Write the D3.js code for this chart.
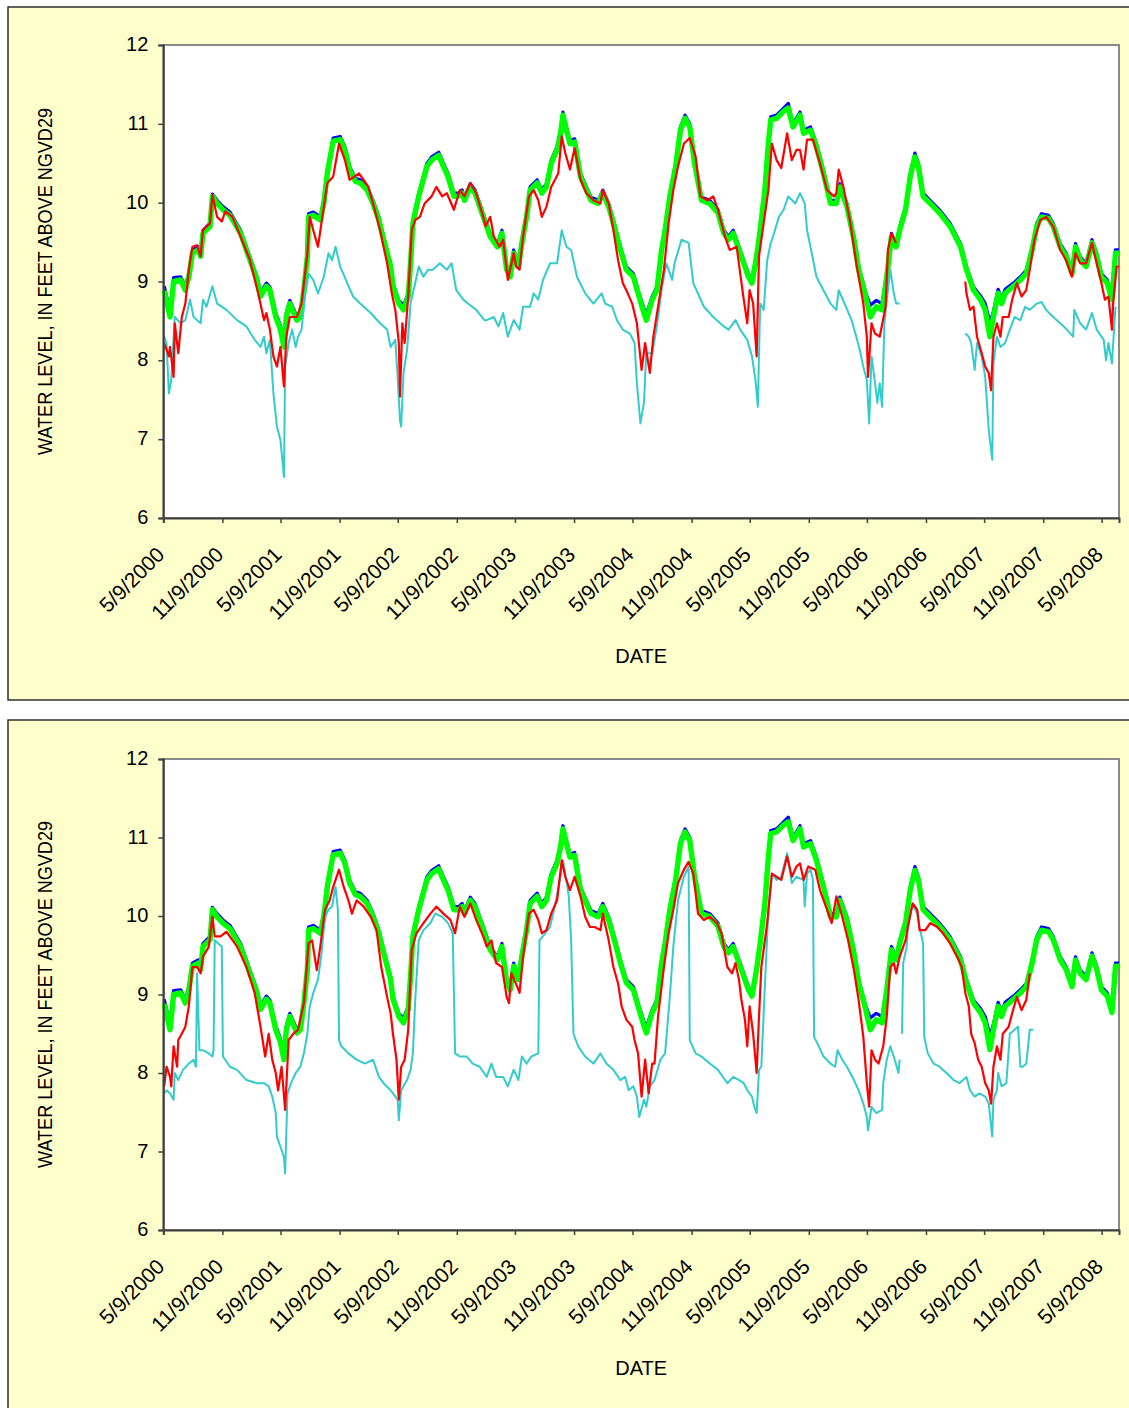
<!DOCTYPE html>
<html><head><meta charset="utf-8">
<script src="https://cdn.jsdelivr.net/npm/d3@7"></script>
<style>body{margin:0;background:#fff;} svg{display:block;font-family:Arial,"Liberation Sans",sans-serif;}</style>
</head><body>
<svg id="chart" width="1129" height="1408"></svg>
<script>
// ---------- data ----------
const tickLabels = ["5/9/2000","11/9/2000","5/9/2001","11/9/2001","5/9/2002","11/9/2002","5/9/2003","11/9/2003",
  "5/9/2004","11/9/2004","5/9/2005","11/9/2005","5/9/2006","11/9/2006","5/9/2007","11/9/2007","5/9/2008"];
const yTicks = [6,7,8,9,10,11,12];
const xTitle = "DATE";
const yTitle = "WATER LEVEL, IN FEET ABOVE NGVD29";

// times in decimal years
const bgYears = [2000.36,2000.41,2000.44,2000.50,2000.54,2000.57,2000.60,2000.65,2000.67,2000.69,2000.75,2000.77,2000.81,2000.86,2000.92,
2001.01,2001.09,2001.15,2001.18,2001.23,2001.26,2001.31,2001.35,2001.38,2001.40,2001.43,2001.49,2001.52,2001.55,2001.58,2001.59,2001.63,2001.69,2001.72,2001.75,2001.76,2001.80,2001.86,2001.90,2001.94,2001.99,
2002.03,2002.09,2002.14,2002.19,2002.23,2002.29,2002.31,2002.36,2002.40,2002.44,2002.46,2002.48,2002.53,2002.60,2002.64,2002.70,2002.74,2002.78,2002.83,2002.87,2002.90,2002.92,2002.97,
2003.01,2003.05,2003.10,2003.14,2003.20,2003.24,2003.28,2003.31,2003.34,2003.38,2003.41,2003.45,2003.48,2003.54,2003.58,2003.62,2003.66,2003.71,2003.74,2003.76,2003.79,2003.82,2003.86,2003.91,2003.96,
2004.00,2004.06,2004.10,2004.15,2004.19,2004.25,2004.30,2004.36,2004.40,2004.45,2004.47,2004.52,2004.56,2004.60,2004.63,2004.67,2004.72,2004.76,2004.80,2004.84,2004.88,2004.94,
2005.01,2005.08,2005.13,2005.17,2005.21,2005.26,2005.30,2005.34,2005.37,2005.41,2005.44,2005.48,2005.51,2005.53,2005.58,2005.64,2005.68,2005.72,2005.78,2005.81,2005.87,2005.92,2005.98,
2006.04,2006.09,2006.12,2006.18,2006.24,2006.28,2006.34,2006.38,2006.43,2006.48,2006.52,2006.56,2006.60,2006.63,2006.68,2006.72,2006.76,2006.79,2006.83,2006.89,2006.97,
2007.06,2007.15,2007.20,2007.26,2007.32,2007.36,2007.40,2007.43,2007.47,2007.50,2007.53,2007.60,2007.66,2007.71,2007.76,2007.80,2007.84,2007.90,2007.94,
2008.00,2008.05,2008.10,2008.13,2008.17,2008.22,2008.27,2008.31,2008.35,2008.40,2008.44,2008.47,2008.50];

const blueLevels = [8.94,8.62,9.05,9.06,8.94,9.10,9.40,9.44,9.36,9.65,9.74,10.11,10.03,9.95,9.88,
9.65,9.31,9.06,8.86,8.98,8.93,8.60,8.44,8.23,8.60,8.76,8.56,8.60,8.93,9.36,9.86,9.88,9.82,10.03,10.41,10.50,10.82,10.84,10.71,10.46,10.31,
10.29,10.20,10.03,9.82,9.57,9.23,8.98,8.76,8.70,8.85,9.27,9.78,10.12,10.50,10.58,10.64,10.50,10.37,10.12,10.12,10.16,10.07,10.24,
10.16,9.99,9.78,9.61,9.48,9.65,9.19,9.10,9.40,9.23,9.53,9.86,10.20,10.29,10.16,10.24,10.54,10.71,10.92,11.15,10.96,10.79,10.81,10.37,10.20,
10.07,10.03,10.16,9.99,9.78,9.44,9.19,9.10,8.89,8.66,8.58,8.81,8.93,9.44,9.69,10.12,10.50,10.96,11.11,11.00,10.54,10.07,
10.03,9.91,9.65,9.57,9.65,9.44,9.27,9.10,9.02,9.36,9.69,10.20,10.79,11.09,11.11,11.20,11.26,11.00,11.15,10.92,10.96,10.75,10.41,
10.03,10.03,10.24,9.99,9.57,9.19,8.86,8.70,8.76,8.72,9.10,9.61,9.48,9.69,9.95,10.37,10.63,10.50,10.12,10.03,9.91,
9.74,9.48,9.19,8.93,8.82,8.72,8.48,8.62,8.90,8.78,8.90,8.98,9.06,9.14,9.44,9.74,9.86,9.84,9.74,
9.48,9.36,9.14,9.48,9.31,9.23,9.53,9.36,9.10,9.02,8.82,9.40,9.40];

const greenLevels = [8.88,8.55,9.00,9.02,8.89,9.06,9.36,9.40,9.32,9.61,9.70,10.08,9.99,9.91,9.84,
9.61,9.27,9.02,8.81,8.94,8.89,8.55,8.39,8.17,8.55,8.72,8.51,8.55,8.89,9.32,9.82,9.84,9.78,9.99,10.37,10.46,10.78,10.80,10.67,10.42,10.27,
10.25,10.16,9.99,9.78,9.53,9.19,8.94,8.72,8.64,8.81,9.23,9.74,10.08,10.46,10.54,10.60,10.46,10.33,10.08,10.08,10.12,10.03,10.20,
10.12,9.95,9.74,9.57,9.44,9.61,9.15,9.06,9.36,9.19,9.49,9.82,10.16,10.25,10.12,10.20,10.50,10.67,10.88,11.11,10.92,10.75,10.77,10.33,10.16,
10.03,9.99,10.12,9.95,9.74,9.40,9.15,9.06,8.85,8.60,8.51,8.77,8.89,9.40,9.65,10.08,10.46,10.92,11.07,10.96,10.50,10.03,
9.99,9.87,9.61,9.53,9.61,9.40,9.23,9.06,8.98,9.32,9.65,10.16,10.75,11.05,11.07,11.16,11.20,10.96,11.11,10.88,10.92,10.71,10.37,
9.99,9.99,10.20,9.95,9.53,9.15,8.81,8.55,8.68,8.64,9.06,9.57,9.44,9.65,9.91,10.33,10.58,10.46,10.08,9.99,9.87,
9.70,9.44,9.15,8.89,8.77,8.64,8.30,8.55,8.85,8.72,8.85,8.94,9.02,9.10,9.40,9.70,9.82,9.80,9.70,
9.44,9.32,9.10,9.44,9.27,9.19,9.49,9.32,9.06,8.98,8.77,9.36,9.36];

// [decimal year, level]; null level = gap in record
const redTop = [[2000.36,8.22],[2000.40,8.05],[2000.41,8.17],[2000.44,7.79],[2000.45,8.47],[2000.48,8.09],[2000.51,8.55],[2000.54,8.72],[2000.57,9.15],[2000.60,9.44],
[2000.64,9.46],[2000.67,9.32],[2000.69,9.65],[2000.75,9.74],[2000.77,10.10],[2000.81,9.82],[2000.85,9.76],[2000.88,9.89],[2000.94,9.82],[2001.01,9.57],[2001.09,9.27],
[2001.16,8.85],[2001.21,8.51],[2001.23,8.60],[2001.26,8.39],[2001.29,8.05],[2001.32,7.92],[2001.35,8.17],[2001.38,7.67],[2001.40,8.30],[2001.43,8.55],[2001.49,8.55],
[2001.53,8.72],[2001.58,9.36],[2001.60,9.82],[2001.63,9.65],[2001.67,9.44],[2001.70,9.74],[2001.75,10.25],[2001.80,10.33],[2001.85,10.75],[2001.90,10.54],[2001.94,10.29],
[2002.02,10.37],[2002.06,10.29],[2002.10,10.20],[2002.14,9.99],[2002.20,9.65],[2002.26,9.23],[2002.30,8.85],[2002.33,8.64],[2002.36,8.22],[2002.37,7.54],[2002.39,8.47],
[2002.41,8.22],[2002.44,8.81],[2002.47,9.65],[2002.50,9.78],[2002.54,9.82],[2002.58,9.99],[2002.64,10.08],[2002.68,10.20],[2002.73,10.08],[2002.77,10.12],[2002.83,9.91],
[2002.88,10.16],[2002.92,10.08],[2002.97,10.25],[2003.02,10.12],[2003.08,9.82],[2003.10,9.70],[2003.14,9.82],[2003.17,9.57],[2003.22,9.44],[2003.25,9.53],[2003.29,9.02],
[2003.34,9.36],[2003.36,9.19],[2003.39,9.15],[2003.42,9.57],[2003.47,10.08],[2003.51,10.16],[2003.55,10.03],[2003.58,9.82],[2003.62,9.95],[2003.66,10.20],[2003.72,10.37],
[2003.75,10.84],[2003.78,10.63],[2003.82,10.42],[2003.86,10.69],[2003.91,10.29],[2003.96,10.12],[2004.02,10.03],[2004.08,9.99],[2004.10,10.16],[2004.15,9.99],[2004.19,9.65],
[2004.23,9.27],[2004.27,8.98],[2004.30,8.89],[2004.35,8.72],[2004.39,8.47],[2004.43,7.88],[2004.46,8.22],[2004.50,7.84],[2004.53,8.30],[2004.57,8.68],[2004.62,9.15],
[2004.66,9.74],[2004.70,10.16],[2004.74,10.46],[2004.79,10.75],[2004.84,10.82],[2004.89,10.58],[2004.93,10.08],[2004.99,10.03],[2005.04,10.08],[2005.08,9.91],[2005.14,9.57],
[2005.18,9.40],[2005.24,9.44],[2005.27,9.10],[2005.30,8.77],[2005.33,8.47],[2005.35,8.89],[2005.38,8.72],[2005.41,8.05],[2005.43,9.32],[2005.47,9.74],[2005.51,10.16],
[2005.54,10.75],[2005.58,10.54],[2005.62,10.44],[2005.67,10.88],[2005.71,10.54],[2005.75,10.67],[2005.78,10.67],[2005.81,10.42],[2005.84,10.80],[2005.89,10.80],[2005.95,10.50],
[2006.01,10.16],[2006.07,10.08],[2006.09,10.12],[2006.11,10.42],[2006.15,10.20],[2006.21,9.74],[2006.26,9.23],[2006.32,8.72],[2006.35,8.30],[2006.36,7.79],[2006.39,8.47],
[2006.42,8.34],[2006.46,8.30],[2006.51,8.68],[2006.53,9.40],[2006.56,9.61],[2006.60,9.49],[2006.90,null],
[2007.19,9.00],[2007.20,8.85],[2007.23,8.64],[2007.26,8.68],[2007.29,8.30],[2007.33,8.09],[2007.36,7.92],[2007.39,7.84],[2007.41,7.62],[2007.43,8.30],[2007.46,8.47],
[2007.49,8.30],[2007.51,8.55],[2007.56,8.55],[2007.59,8.77],[2007.63,8.98],[2007.67,8.81],[2007.71,8.89],[2007.74,9.15],[2007.78,9.53],[2007.83,9.78],[2007.88,9.82],
[2007.94,9.70],[2008.00,9.40],[2008.05,9.27],[2008.10,9.06],[2008.13,9.36],[2008.17,9.23],[2008.22,9.23],[2008.27,9.49],[2008.31,9.23],[2008.35,8.98],[2008.38,8.77],
[2008.41,8.81],[2008.44,8.39],[2008.45,8.72],[2008.48,9.19],[2008.50,9.19]];

const cyanTop = [[2000.36,8.30],[2000.38,8.22],[2000.40,7.58],[2000.42,7.75],[2000.45,8.55],[2000.50,8.47],[2000.54,8.51],[2000.58,8.77],[2000.61,8.55],[2000.67,8.47],
[2000.69,8.77],[2000.72,8.68],[2000.77,8.94],[2000.81,8.72],[2000.89,8.64],[2000.98,8.51],[2001.06,8.43],[2001.13,8.26],[2001.18,8.17],[2001.21,8.30],[2001.23,8.09],
[2001.26,8.26],[2001.29,7.58],[2001.32,7.16],[2001.35,6.99],[2001.38,6.52],[2001.39,7.92],[2001.42,8.22],[2001.45,8.39],[2001.48,8.17],[2001.50,8.30],[2001.53,8.39],
[2001.56,8.81],[2001.59,9.10],[2001.63,9.02],[2001.67,8.85],[2001.72,9.06],[2001.76,9.36],[2001.79,9.27],[2001.82,9.44],[2001.86,9.19],[2001.92,8.98],[2001.97,8.81],
[2002.03,8.72],[2002.12,8.60],[2002.20,8.47],[2002.26,8.39],[2002.29,8.17],[2002.33,8.26],[2002.35,7.79],[2002.37,7.24],[2002.38,7.16],[2002.40,7.84],[2002.43,8.13],
[2002.46,8.72],[2002.50,8.98],[2002.53,9.19],[2002.57,9.06],[2002.61,9.15],[2002.65,9.15],[2002.71,9.23],[2002.77,9.15],[2002.81,9.23],[2002.85,8.89],[2002.91,8.77],
[2002.95,8.72],[2003.02,8.64],[2003.09,8.51],[2003.11,8.51],[2003.17,8.55],[2003.21,8.43],[2003.25,8.60],[2003.29,8.30],[2003.34,8.51],[2003.39,8.39],[2003.42,8.68],
[2003.48,8.68],[2003.51,8.85],[2003.55,8.77],[2003.59,9.02],[2003.65,9.23],[2003.71,9.23],[2003.75,9.65],[2003.79,9.44],[2003.83,9.40],[2003.88,9.06],[2003.95,8.85],
[2004.02,8.72],[2004.09,8.85],[2004.12,8.72],[2004.18,8.68],[2004.22,8.51],[2004.27,8.39],[2004.33,8.34],[2004.37,8.22],[2004.39,7.71],[2004.42,7.20],[2004.45,7.46],
[2004.47,8.09],[2004.52,8.09],[2004.56,8.43],[2004.60,8.89],[2004.64,9.23],[2004.69,9.02],[2004.71,9.23],[2004.77,9.53],[2004.83,9.49],[2004.87,8.98],[2004.96,8.68],
[2005.04,8.55],[2005.13,8.43],[2005.17,8.39],[2005.23,8.51],[2005.27,8.39],[2005.33,8.26],[2005.37,8.05],[2005.40,7.75],[2005.42,7.41],[2005.44,8.72],[2005.47,8.64],
[2005.50,9.27],[2005.53,9.49],[2005.55,9.57],[2005.60,9.82],[2005.64,9.91],[2005.68,10.08],[2005.74,9.99],[2005.78,10.12],[2005.82,9.99],[2005.84,9.65],[2005.88,9.36],
[2005.92,9.06],[2005.98,8.89],[2006.04,8.72],[2006.09,8.64],[2006.11,8.89],[2006.16,8.72],[2006.22,8.51],[2006.26,8.30],[2006.29,8.13],[2006.32,7.92],[2006.35,7.75],
[2006.37,7.20],[2006.39,8.05],[2006.42,7.71],[2006.44,7.46],[2006.46,7.71],[2006.48,7.41],[2006.50,8.47],[2006.53,8.89],[2006.55,9.15],[2006.58,8.85],[2006.60,8.72],
[2006.63,8.72],[2006.90,null],
[2007.19,8.34],[2007.22,8.30],[2007.24,8.22],[2007.27,7.88],[2007.29,8.22],[2007.33,8.05],[2007.36,7.79],[2007.39,7.12],[2007.42,6.74],[2007.43,7.96],[2007.46,8.30],
[2007.49,8.17],[2007.53,8.22],[2007.57,8.39],[2007.61,8.55],[2007.66,8.51],[2007.70,8.68],[2007.74,8.64],[2007.80,8.72],[2007.84,8.74],[2007.88,8.64],[2007.94,8.55],
[2008.03,8.43],[2008.11,8.30],[2008.12,8.64],[2008.17,8.47],[2008.22,8.39],[2008.27,8.60],[2008.31,8.39],[2008.37,8.26],[2008.39,8.00],[2008.41,8.22],[2008.44,7.96],
[2008.47,8.68]];

const redBottom = [[2000.36,7.83],[2000.38,8.08],[2000.41,7.95],[2000.42,7.83],[2000.44,8.34],[2000.47,8.08],[2000.48,8.42],[2000.51,8.50],[2000.54,8.59],[2000.57,8.85],
[2000.60,9.35],[2000.64,9.35],[2000.67,9.27],[2000.69,9.48],[2000.74,9.61],[2000.77,9.99],[2000.79,9.74],[2000.84,9.74],[2000.89,9.80],[2000.98,9.61],[2001.06,9.35],
[2001.13,9.02],[2001.18,8.59],[2001.22,8.21],[2001.25,8.50],[2001.28,8.17],[2001.31,8.00],[2001.33,7.78],[2001.36,8.08],[2001.39,7.53],[2001.42,8.42],[2001.46,8.50],
[2001.50,8.55],[2001.55,8.89],[2001.59,9.65],[2001.62,9.69],[2001.66,9.31],[2001.69,9.61],[2001.73,10.08],[2001.77,10.20],[2001.80,10.37],[2001.85,10.59],[2001.89,10.37],
[2001.93,10.20],[2001.96,10.03],[2002.00,10.20],[2002.06,10.12],[2002.12,9.99],[2002.17,9.82],[2002.21,9.35],[2002.26,8.97],[2002.29,8.76],[2002.31,8.50],[2002.34,8.17],
[2002.36,7.66],[2002.38,8.08],[2002.41,8.17],[2002.44,8.55],[2002.47,9.57],[2002.51,9.78],[2002.57,9.91],[2002.63,10.03],[2002.68,10.12],[2002.74,10.03],[2002.80,9.95],
[2002.84,9.78],[2002.88,10.12],[2002.92,9.99],[2002.97,10.16],[2003.02,9.95],[2003.08,9.74],[2003.11,9.61],[2003.15,9.69],[2003.19,9.40],[2003.24,9.35],[2003.28,8.97],
[2003.30,8.89],[2003.32,9.27],[2003.37,9.10],[2003.39,9.02],[2003.42,9.48],[2003.47,10.03],[2003.51,10.08],[2003.55,9.95],[2003.58,9.78],[2003.62,9.82],[2003.66,10.03],
[2003.71,10.20],[2003.75,10.71],[2003.78,10.50],[2003.82,10.33],[2003.86,10.50],[2003.91,10.25],[2003.95,9.99],[2003.99,9.86],[2004.03,9.86],[2004.08,9.82],[2004.10,10.03],
[2004.15,9.69],[2004.19,9.35],[2004.23,9.14],[2004.26,8.85],[2004.30,8.68],[2004.35,8.59],[2004.37,8.42],[2004.40,8.25],[2004.43,7.70],[2004.46,8.17],[2004.49,7.74],
[2004.52,8.12],[2004.54,8.12],[2004.57,8.72],[2004.62,9.35],[2004.66,9.78],[2004.70,10.08],[2004.74,10.42],[2004.79,10.59],[2004.83,10.69],[2004.87,10.54],[2004.91,10.03],
[2004.96,9.95],[2005.01,9.99],[2005.07,9.91],[2005.11,9.78],[2005.16,9.35],[2005.20,9.27],[2005.23,9.40],[2005.26,9.18],[2005.28,8.93],[2005.31,8.68],[2005.33,8.34],
[2005.35,8.85],[2005.38,8.50],[2005.41,8.00],[2005.43,8.72],[2005.45,9.35],[2005.50,9.91],[2005.54,10.54],[2005.58,10.50],[2005.62,10.46],[2005.67,10.76],[2005.71,10.50],
[2005.75,10.63],[2005.78,10.67],[2005.81,10.46],[2005.85,10.63],[2005.91,10.59],[2005.95,10.33],[2006.01,10.08],[2006.05,9.91],[2006.09,10.25],[2006.14,9.99],[2006.19,9.69],
[2006.24,9.31],[2006.28,8.93],[2006.32,8.46],[2006.35,7.87],[2006.37,7.57],[2006.39,8.29],[2006.42,8.17],[2006.45,8.12],[2006.49,8.34],[2006.52,8.72],[2006.55,9.35],
[2006.58,9.40],[2006.60,9.27],[2006.63,9.48],[2006.68,9.69],[2006.70,9.86],[2006.74,10.16],[2006.78,10.08],[2006.80,9.82],[2006.85,9.82],[2006.89,9.91],[2006.95,9.86],
[2007.00,9.78],[2007.06,9.65],[2007.12,9.48],[2007.16,9.35],[2007.19,9.02],[2007.22,8.85],[2007.24,8.50],[2007.27,8.38],[2007.30,8.17],[2007.33,8.08],[2007.36,7.87],
[2007.39,7.78],[2007.41,7.61],[2007.43,8.08],[2007.46,8.34],[2007.49,8.17],[2007.51,8.50],[2007.56,8.59],[2007.59,8.76],[2007.63,8.97],[2007.67,8.80],[2007.71,8.93],
[2007.74,9.27]];

const cyanBottom = [[2000.36,7.74],[2000.38,7.78],[2000.41,7.74],[2000.44,7.66],[2000.45,8.00],[2000.48,7.91],[2000.52,8.04],[2000.57,8.12],[2000.61,8.17],[2000.63,8.08],
[2000.64,9.27],[2000.66,8.29],[2000.69,8.29],[2000.74,8.25],[2000.77,8.21],[2000.78,8.29],[2000.79,9.69],[2000.82,9.65],[2000.85,9.61],[2000.86,8.21],[2000.92,8.08],
[2000.98,8.04],[2001.06,7.91],[2001.15,7.87],[2001.21,7.87],[2001.25,7.83],[2001.28,7.70],[2001.31,7.49],[2001.32,7.19],[2001.35,7.06],[2001.38,6.93],[2001.39,6.72],
[2001.41,7.74],[2001.44,7.87],[2001.48,8.00],[2001.52,8.08],[2001.55,8.25],[2001.58,8.50],[2001.60,8.85],[2001.63,9.02],[2001.67,9.19],[2001.70,9.52],[2001.73,9.99],
[2001.76,10.08],[2001.79,10.12],[2001.82,10.37],[2001.84,10.08],[2001.85,8.42],[2001.87,8.34],[2001.93,8.25],[2002.00,8.17],[2002.07,8.12],[2002.14,8.17],[2002.19,7.95],
[2002.23,7.87],[2002.29,7.78],[2002.31,7.74],[2002.35,7.66],[2002.36,7.40],[2002.38,7.78],[2002.43,7.91],[2002.46,8.04],[2002.48,8.25],[2002.50,8.93],[2002.53,9.69],
[2002.57,9.82],[2002.63,9.91],[2002.67,10.03],[2002.73,9.99],[2002.78,9.91],[2002.82,9.78],[2002.84,8.25],[2002.88,8.21],[2002.94,8.21],[2002.99,8.12],[2003.05,8.08],
[2003.11,7.95],[2003.15,8.12],[2003.19,7.95],[2003.25,7.95],[2003.29,7.83],[2003.34,8.04],[2003.38,7.91],[2003.41,8.21],[2003.45,8.12],[2003.49,8.21],[2003.55,8.25],
[2003.56,9.69],[2003.61,9.78],[2003.65,9.86],[2003.69,10.12],[2003.73,10.42],[2003.76,10.71],[2003.79,10.46],[2003.81,10.25],[2003.83,9.69],[2003.85,8.50],[2003.89,8.34],
[2003.95,8.21],[2004.02,8.12],[2004.08,8.25],[2004.13,8.12],[2004.19,8.04],[2004.25,7.91],[2004.29,7.95],[2004.32,7.78],[2004.36,7.83],[2004.39,7.70],[2004.41,7.44],
[2004.45,7.66],[2004.47,7.57],[2004.50,7.83],[2004.54,7.91],[2004.59,8.17],[2004.63,8.25],[2004.67,8.97],[2004.70,9.61],[2004.74,10.20],[2004.79,10.50],[2004.83,10.63],
[2004.84,8.42],[2004.89,8.25],[2004.94,8.21],[2005.01,8.12],[2005.08,8.04],[2005.16,7.87],[2005.21,7.95],[2005.26,7.91],[2005.30,7.87],[2005.33,7.78],[2005.37,7.70],
[2005.39,7.57],[2005.41,7.49],[2005.43,8.04],[2005.45,8.08],[2005.48,9.10],[2005.51,10.08],[2005.54,10.54],[2005.58,10.46],[2005.62,10.50],[2005.67,10.80],[2005.71,10.42],
[2005.75,10.50],[2005.81,10.46],[2005.82,10.12],[2005.84,10.54],[2005.87,10.59],[2005.89,10.46],[2005.90,8.46],[2005.94,8.34],[2005.98,8.21],[2006.04,8.12],[2006.08,8.08],
[2006.10,8.29],[2006.14,8.17],[2006.18,8.08],[2006.24,7.91],[2006.28,7.78],[2006.32,7.61],[2006.35,7.44],[2006.36,7.27],[2006.39,7.57],[2006.43,7.49],[2006.48,7.53],
[2006.49,7.87],[2006.52,8.17],[2006.55,8.34],[2006.58,8.21],[2006.62,8.00],[2006.63,8.17],[2006.64,null],
[2006.65,8.50],[2006.66,9.40],[2006.69,9.61],[2006.70,9.86],[2006.73,10.08],[2006.75,10.12],[2006.78,10.03],[2006.80,9.86],[2006.83,9.65],[2006.84,8.46],[2006.87,8.25],
[2006.92,8.12],[2006.97,8.08],[2007.03,8.00],[2007.09,7.91],[2007.14,7.87],[2007.20,7.95],[2007.23,7.78],[2007.27,7.70],[2007.31,7.74],[2007.36,7.70],[2007.39,7.61],
[2007.42,7.19],[2007.43,7.66],[2007.46,7.78],[2007.47,8.00],[2007.50,7.83],[2007.54,7.87],[2007.57,8.50],[2007.61,8.55],[2007.64,8.59],[2007.66,8.08],[2007.68,8.08],
[2007.71,8.12],[2007.74,8.55],[2007.77,8.55]];

// ---------- helpers ----------
function yearToDate(t){
  const y = Math.floor(t), a = Date.UTC(y,0,1), b = Date.UTC(y+1,0,1);
  return new Date(a + (t - y) * (b - a));
}
function labelToDate(s){ const [m,d,y] = s.split("/").map(Number); return new Date(Date.UTC(y, m-1, d)); }

const svg = d3.select("#chart");
const FONT = "Arial, 'Liberation Sans', sans-serif";
const bluePairs = bgYears.map((t,i)=>[t, blueLevels[i]]);
const greenPairs = bgYears.map((t,i)=>[t, greenLevels[i]]);

const x = d3.scaleUtc().domain([new Date(Date.UTC(2000,4,9)), new Date(Date.UTC(2008,6,2))]).range([163.3, 1119]);

function drawPanel(cfg){
  const g = svg.append("g");
  g.append("rect").attr("x",8).attr("y",cfg.panelTop).attr("width",1140).attr("height",cfg.panelH)
    .attr("fill","#FFFFCC").attr("stroke","#222").attr("stroke-width",1.4);
  const y = d3.scaleLinear().domain([6,12]).range([cfg.bottom, cfg.top]);
  const L = x.range()[0], R = x.range()[1];
  g.append("rect").attr("x",L).attr("y",cfg.top).attr("width",R-L).attr("height",cfg.bottom-cfg.top)
    .attr("fill","#fff").attr("stroke","#8a8a8a").attr("stroke-width",2);

  const line = d3.line().defined(d=>d[1]!=null).x(d=>x(yearToDate(d[0]))).y(d=>y(d[1]));
  const series = [
    {data: bluePairs, color:"#0000FF", w:3.2},
    {data: greenPairs, color:"#00FF00", w:5.4},
    {data: cfg.cyan, color:"#33CCCC", w:2},
    {data: cfg.red, color:"#FF0000", w:2.2}
  ];
  series.forEach(s=>{
    g.append("path").attr("d", line(s.data)).attr("fill","none").attr("stroke", s.color)
      .attr("stroke-width", s.w).attr("stroke-linejoin","round");
  });

  // y axis
  const ya = d3.axisLeft(y).tickValues(yTicks).tickSize(5).tickFormat(d3.format("d"));
  const yg = g.append("g").attr("transform",`translate(${L},0)`).call(ya);
  yg.select(".domain").attr("stroke","#404040").attr("stroke-width",2);
  yg.selectAll(".tick line").attr("stroke","#404040").attr("stroke-width",1.5);
  yg.selectAll(".tick text").attr("font-size",20).attr("fill","#000").attr("x",-15).attr("dy","0.28em")
    .attr("font-family",FONT);

  // x axis
  const tickDates = tickLabels.map(labelToDate);
  const xa = d3.axisBottom(x).tickValues(tickDates).tickSize(5).tickFormat((d,i)=>tickLabels[i]);
  const xg = g.append("g").attr("transform",`translate(0,${cfg.bottom})`).call(xa);
  xg.select(".domain").attr("stroke","#404040").attr("stroke-width",2);
  xg.selectAll(".tick line").attr("stroke","#404040").attr("stroke-width",1.5);
  xg.selectAll(".tick text").attr("font-size",21).attr("fill","#000").attr("text-anchor","end")
    .attr("font-family",FONT)
    .attr("y",0).attr("dy",0).attr("transform","translate(2,38) rotate(-45)");

  // titles
  g.append("text").attr("x",(L+R)/2).attr("y",cfg.bottom+145).attr("text-anchor","middle")
    .attr("font-size",20).attr("font-family",FONT).text(xTitle);
  g.append("text").attr("transform",`translate(52,${(cfg.top+cfg.bottom)/2}) rotate(-90)`)
    .attr("text-anchor","middle").attr("font-size",21).attr("font-family",FONT)
    .attr("textLength",347).attr("lengthAdjust","spacingAndGlyphs")
    .text(yTitle);
}

drawPanel({panelTop:7, panelH:693, top:45, bottom:518, red:redTop, cyan:cyanTop});
drawPanel({panelTop:720, panelH:720, top:759, bottom:1230, red:redBottom, cyan:cyanBottom});
</script>
</body></html>
